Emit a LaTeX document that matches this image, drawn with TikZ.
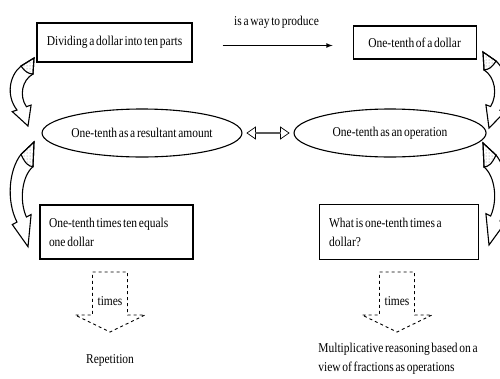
\documentclass[tikz,border=0pt]{standalone}
\usepackage{fontspec}
\setmainfont{Liberation Serif}[FakeStretch=0.85, WordSpace=0.6]
\usetikzlibrary{shapes,patterns}
\usetikzlibrary{calc,positioning}

% curved band arrow, drawn with its top at (0,0) and y going down
\newcommand{\bentarrow}{%
  \filldraw[fill=white] (34,0) -- (21,8) .. controls (9,18) and (6,38) .. (17,52)
      -- (12.3,53.6) -- (28,68) -- (31.1,47.1) -- (26.4,48.7)
      .. controls (19,38) and (22,22) .. (33,16) -- cycle;
  \filldraw[pattern=dots, pattern color=gray] (34,0) -- (21,8)
      .. controls (25,14) and (29,16) .. (33,16) -- cycle;
}

\begin{document}
\begin{tikzpicture}[x=1pt, y=-1pt, line width=1.1pt,
    box/.style={draw, rectangle},
    oval/.style={draw, ellipse, inner sep=0pt, minimum width=174pt, minimum height=48pt}]
    \fontsize{13.5}{19}\selectfont
    \useasboundingbox (0,0) rectangle (500,378);

    \node[box, minimum width=155pt, minimum height=39pt] (divide) at (114.5,42.5) {Dividing a dollar into ten parts};
    \node[box, right=160pt of divide, minimum width=123pt, minimum height=33pt] (tenth) {One-tenth of a dollar};
    \node[oval] (result) at (142,133) {One-tenth as a resultant amount};
    \node[oval, right=51pt of result, minimum width=192pt] (oper) {One-tenth as an operation};
    \node[box, text width=135pt, inner xsep=9pt, minimum height=54pt, align=flush left] (timesten) at (116.5,232) {One-tenth times ten equals\\one dollar};
    \node[box, right=125pt of timesten, text width=139pt, inner xsep=10pt, minimum height=55pt, align=flush left] (whatis) {What is one-tenth times a\\dollar?};

    \draw[-latex, shorten <=30pt, shorten >=20pt] ([yshift=-3pt]divide.east) -- node[above=12pt, xshift=4pt] (produce) {is a way to produce} ([yshift=-3pt]tenth.west);
    \node[draw, double arrow, minimum height=42pt, minimum width=12pt, double arrow head extend=3pt,
          double arrow tip angle=70, inner sep=0pt, line width=0.7pt] (link) at ($(result.east)!0.5!(oper.west)$) {};

    \foreach \sx/\sy/\xs/\ys in {0/58/1/1, 0/142/1/1.54, 517/52/-1/1.12, 517/143/-1/1.5}{
        \begin{scope}[shift={(\sx,\sy)}, xscale=\xs, yscale=\ys]
            \bentarrow
        \end{scope}
    }

    \foreach \x/\n in {110/left, 397/right}{
        \draw[dashed, line width=0.9pt] (\x-17.5,272) -- (\x+17.5,272) -- (\x+17.5,315) -- (\x+35,315)
            -- (\x,332) -- (\x-35,315) -- (\x-17.5,315) -- cycle;
        \node (times\n) at (\x,301) {times};
    }

    \node (repet) at (110,360) {Repetition};
    \node[align=left] (multi) at (398,359) {Multiplicative reasoning based on a\\view of fractions as operations};
\end{tikzpicture}
\end{document}
